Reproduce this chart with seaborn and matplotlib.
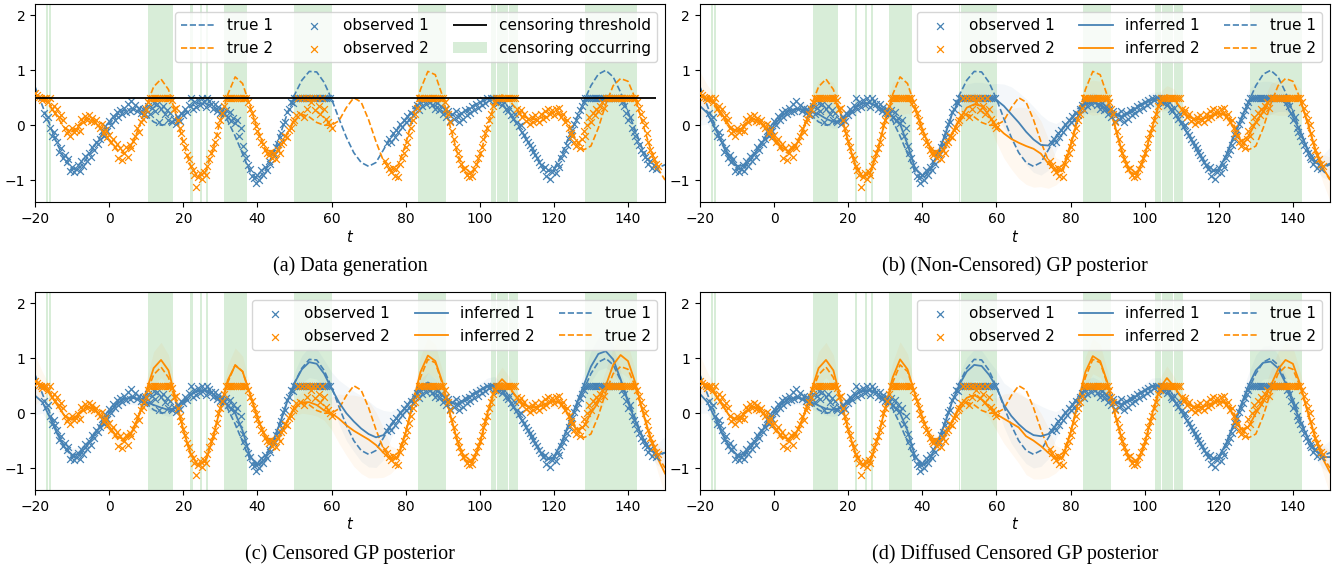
import numpy as np
import matplotlib.pyplot as plt
import seaborn as sns

# grid of the smooth curves (every 2 units of t)
t_grid = np.arange(-20, 151, 2)

true_1 = [0.70, 0.35, 0.00, -0.35, -0.62, -0.80, -0.78, -0.60, -0.38, -0.17,
          0.02, 0.18, 0.27, 0.30, 0.27, 0.18, 0.06, 0.00, 0.02, 0.10,
          0.22, 0.34, 0.40, 0.40, 0.35, 0.25, 0.08, -0.20, -0.52, -0.85,
          -0.98, -0.85, -0.55, -0.20, 0.20, 0.55, 0.82, 0.98, 0.97, 0.78,
          0.48, 0.12, -0.22, -0.50, -0.68, -0.75, -0.68, -0.45, -0.22, -0.05,
          0.10, 0.30, 0.45, 0.45, 0.36, 0.25, 0.18, 0.18, 0.25, 0.35,
          0.42, 0.48, 0.50, 0.40, 0.22, 0.02, -0.20, -0.42, -0.65, -0.85,
          -0.80, -0.55, -0.22, 0.10, 0.42, 0.72, 0.93, 1.00, 0.88, 0.60,
          0.25, -0.10, -0.45, -0.68, -0.78, -0.72]
true_2 = [0.56, 0.50, 0.36, 0.15, -0.05, -0.12, 0.02, 0.13, 0.08, -0.08,
          -0.28, -0.45, -0.52, -0.38, -0.05, 0.35, 0.70, 0.84, 0.65, 0.20,
          -0.32, -0.75, -0.95, -0.85, -0.45, 0.08, 0.56, 0.88, 0.76, 0.35,
          -0.08, -0.42, -0.55, -0.42, -0.15, 0.08, 0.20, 0.15, 0.05, 0.00,
          0.00, 0.08, 0.32, 0.50, 0.42, 0.10, -0.30, -0.65, -0.82, -0.72,
          -0.35, 0.15, 0.65, 0.98, 0.92, 0.52, -0.02, -0.52, -0.86, -0.90,
          -0.58, -0.05, 0.40, 0.55, 0.45, 0.28, 0.15, 0.10, 0.12, 0.18,
          0.22, 0.20, 0.02, -0.28, -0.45, -0.38, -0.05, 0.38, 0.72, 0.85,
          0.80, 0.48, 0.02, -0.42, -0.78, -1.00]

# posterior means
noncens_1 = [0.35, 0.22, -0.05, -0.32, -0.58, -0.74, -0.74, -0.60, -0.40, -0.20,
             0.00, 0.16, 0.26, 0.30, 0.29, 0.25, 0.20, 0.12, 0.06, 0.08,
             0.18, 0.32, 0.40, 0.40, 0.34, 0.25, 0.16, 0.02, -0.35, -0.78,
             -0.92, -0.82, -0.55, -0.20, 0.20, 0.45, 0.50, 0.50, 0.50, 0.50,
             0.46, 0.35, 0.20, 0.05, -0.12, -0.26, -0.36, -0.37, -0.22, -0.05,
             0.10, 0.25, 0.38, 0.42, 0.38, 0.28, 0.18, 0.16, 0.22, 0.32,
             0.40, 0.46, 0.46, 0.38, 0.22, 0.02, -0.20, -0.45, -0.68, -0.85,
             -0.80, -0.55, -0.20, 0.12, 0.42, 0.50, 0.50, 0.50, 0.50, 0.40,
             0.15, -0.12, -0.45, -0.66, -0.75, -0.70]
noncens_2 = [0.52, 0.48, 0.40, 0.20, -0.02, -0.12, -0.02, 0.12, 0.08, -0.05,
             -0.22, -0.40, -0.48, -0.36, -0.05, 0.32, 0.50, 0.50, 0.50, 0.22,
             -0.30, -0.75, -0.95, -0.85, -0.45, 0.10, 0.50, 0.50, 0.50, 0.30,
             -0.08, -0.40, -0.53, -0.42, -0.15, 0.10, 0.32, 0.38, 0.35, 0.18,
             -0.02, -0.15, -0.25, -0.32, -0.38, -0.43, -0.52, -0.70, -0.84, -0.82,
             -0.38, 0.12, 0.50, 0.50, 0.50, 0.45, -0.02, -0.52, -0.86, -0.90,
             -0.55, -0.05, 0.42, 0.50, 0.48, 0.28, 0.15, 0.10, 0.12, 0.18,
             0.22, 0.18, -0.05, -0.30, -0.20, 0.05, 0.25, 0.48, 0.50, 0.50,
             0.50, 0.45, 0.05, -0.45, -0.78, -0.98]
cens_1 = [0.32, 0.20, -0.08, -0.38, -0.62, -0.76, -0.74, -0.60, -0.40, -0.20,
          0.00, 0.16, 0.26, 0.28, 0.26, 0.20, 0.15, 0.10, 0.06, 0.10,
          0.20, 0.33, 0.42, 0.42, 0.35, 0.25, 0.14, 0.00, -0.32, -0.78,
          -0.95, -0.84, -0.55, -0.20, 0.20, 0.55, 0.80, 0.93, 0.90, 0.72,
          0.45, 0.20, 0.00, -0.15, -0.28, -0.38, -0.44, -0.40, -0.22, -0.05,
          0.10, 0.28, 0.48, 0.56, 0.48, 0.32, 0.20, 0.16, 0.22, 0.32,
          0.42, 0.50, 0.52, 0.42, 0.24, 0.02, -0.20, -0.45, -0.68, -0.85,
          -0.80, -0.55, -0.20, 0.15, 0.50, 0.85, 1.08, 1.13, 0.98, 0.62,
          0.20, -0.15, -0.45, -0.66, -0.75, -0.72]
cens_2 = [0.60, 0.50, 0.35, 0.15, -0.05, -0.12, 0.00, 0.12, 0.08, -0.06,
          -0.24, -0.42, -0.48, -0.36, -0.05, 0.40, 0.82, 0.97, 0.78, 0.25,
          -0.30, -0.75, -0.95, -0.88, -0.45, 0.10, 0.60, 0.87, 0.76, 0.35,
          -0.08, -0.42, -0.53, -0.42, -0.15, 0.10, 0.20, 0.20, 0.15, 0.05,
          0.00, -0.10, -0.22, -0.32, -0.40, -0.48, -0.58, -0.72, -0.85, -0.80,
          -0.36, 0.20, 0.75, 1.05, 0.95, 0.55, -0.02, -0.52, -0.86, -0.90,
          -0.55, -0.02, 0.45, 0.62, 0.48, 0.28, 0.15, 0.10, 0.12, 0.18,
          0.22, 0.18, -0.05, -0.30, -0.25, 0.00, 0.20, 0.50, 0.88, 1.06,
          0.95, 0.55, 0.02, -0.45, -0.82, -1.10]
diff_1 = [0.35, 0.20, -0.08, -0.38, -0.62, -0.76, -0.74, -0.60, -0.40, -0.20,
          0.00, 0.16, 0.26, 0.28, 0.26, 0.20, 0.14, 0.08, 0.06, 0.10,
          0.20, 0.33, 0.42, 0.42, 0.35, 0.25, 0.14, 0.00, -0.32, -0.78,
          -0.95, -0.84, -0.55, -0.20, 0.20, 0.52, 0.76, 0.88, 0.86, 0.70,
          0.48, 0.15, -0.05, -0.20, -0.32, -0.40, -0.42, -0.38, -0.22, -0.05,
          0.10, 0.28, 0.45, 0.48, 0.44, 0.30, 0.20, 0.16, 0.22, 0.32,
          0.42, 0.50, 0.50, 0.42, 0.24, 0.02, -0.20, -0.45, -0.68, -0.85,
          -0.80, -0.55, -0.20, 0.15, 0.50, 0.78, 0.92, 0.94, 0.82, 0.55,
          0.18, -0.15, -0.45, -0.68, -0.80, -0.80]
diff_2 = [0.60, 0.50, 0.35, 0.15, -0.05, -0.12, 0.00, 0.12, 0.08, -0.06,
          -0.24, -0.42, -0.48, -0.36, -0.05, 0.40, 0.82, 0.97, 0.78, 0.25,
          -0.30, -0.75, -0.95, -0.88, -0.45, 0.10, 0.65, 0.98, 0.80, 0.35,
          -0.08, -0.42, -0.53, -0.42, -0.15, 0.12, 0.28, 0.33, 0.25, 0.10,
          -0.02, -0.10, -0.18, -0.26, -0.42, -0.50, -0.60, -0.72, -0.84, -0.80,
          -0.36, 0.20, 0.75, 1.04, 0.95, 0.55, -0.02, -0.52, -0.86, -0.90,
          -0.55, -0.02, 0.45, 0.64, 0.48, 0.28, 0.15, 0.10, 0.12, 0.18,
          0.22, 0.18, -0.05, -0.30, -0.25, 0.00, 0.20, 0.50, 0.80, 0.97,
          0.90, 0.52, 0.02, -0.45, -0.82, -1.08]

# posterior std (half width of the shaded band)
band_1 = [0.35, 0.20, 0.14, 0.12, 0.12, 0.12, 0.12, 0.12, 0.12, 0.12,
          0.12, 0.12, 0.12, 0.12, 0.12, 0.12, 0.12, 0.12, 0.12, 0.12,
          0.12, 0.12, 0.12, 0.12, 0.12, 0.12, 0.12, 0.12, 0.12, 0.12,
          0.12, 0.12, 0.12, 0.12, 0.15, 0.20, 0.25, 0.28, 0.28, 0.25,
          0.30, 0.40, 0.50, 0.55, 0.60, 0.60, 0.55, 0.45, 0.25, 0.15,
          0.12, 0.12, 0.15, 0.18, 0.15, 0.12, 0.12, 0.12, 0.12, 0.12,
          0.12, 0.14, 0.15, 0.12, 0.12, 0.12, 0.12, 0.12, 0.12, 0.12,
          0.12, 0.12, 0.12, 0.15, 0.22, 0.28, 0.30, 0.30, 0.25, 0.15,
          0.12, 0.12, 0.12, 0.14, 0.20, 0.30]
band_2 = [0.45, 0.25, 0.15, 0.12, 0.12, 0.12, 0.12, 0.12, 0.12, 0.12,
          0.12, 0.12, 0.12, 0.12, 0.12, 0.20, 0.30, 0.32, 0.28, 0.15,
          0.12, 0.12, 0.12, 0.12, 0.12, 0.15, 0.28, 0.32, 0.28, 0.15,
          0.12, 0.12, 0.12, 0.12, 0.12, 0.15, 0.20, 0.22, 0.20, 0.18,
          0.30, 0.45, 0.55, 0.65, 0.70, 0.70, 0.60, 0.45, 0.25, 0.15,
          0.12, 0.15, 0.28, 0.32, 0.30, 0.20, 0.12, 0.12, 0.12, 0.12,
          0.12, 0.12, 0.18, 0.22, 0.18, 0.12, 0.12, 0.12, 0.12, 0.12,
          0.12, 0.12, 0.12, 0.12, 0.15, 0.15, 0.20, 0.28, 0.32, 0.32,
          0.30, 0.22, 0.15, 0.15, 0.25, 0.40]

# observations every 0.5 of t, two stretches per output (nothing in 60-75)
obs_step = 0.5
obs1_early_start = -17.5
obs1_early = [0.22, 0.12, 0.15, -0.05, -0.20, -0.12, -0.22, -0.30, -0.48, -0.42,
              -0.60, -0.55, -0.68, -0.62, -0.84, -0.76, -0.86, -0.80, -0.72, -0.84,
              -0.66, -0.75, -0.56, -0.66, -0.50, -0.58, -0.40, -0.46, -0.30, -0.35,
              -0.26, -0.10, -0.20, -0.02, -0.10, 0.08, 0.00, 0.17, 0.10, 0.24,
              0.15, 0.28, 0.20, 0.32, 0.24, 0.38, 0.26, 0.44, 0.30, 0.36,
              0.25, 0.32, 0.22, 0.30, 0.18, 0.28, 0.35, 0.20, 0.32, 0.40,
              0.25, 0.38, 0.06, 0.30, 0.35, 0.20, 0.28, 0.10, 0.22, 0.05,
              0.12, 0.03, 0.15, 0.08, 0.22, 0.18, 0.30, 0.24, 0.36, 0.50,
              0.30, 0.42, 0.34, 0.45, 0.36, 0.50, 0.42, 0.34, 0.50, 0.44,
              0.38, 0.30, 0.38, 0.26, 0.33, 0.22, 0.30, 0.20, 0.28, 0.15,
              0.24, 0.08, 0.14, 0.04, 0.10, -0.20, -0.05, -0.38, -0.50, -0.60,
              -0.72, -0.80, -0.92, -0.96, -1.05, -0.90, -1.00, -0.82, -0.90, -0.76,
              -0.82, -0.66, -0.70, -0.50, -0.55, -0.40, -0.35, -0.22, -0.15, 0.02,
              0.05, 0.24, 0.30, 0.42, 0.40, 0.50, 0.50, 0.50, 0.50, 0.50,
              0.50, 0.50, 0.50, 0.50, 0.50, 0.50, 0.50, 0.50, 0.50, 0.50,
              0.50, 0.50, 0.50, 0.50, 0.50]
obs1_late_start = 75.0
obs1_late = [-0.32, -0.25, -0.30, -0.15, -0.22, -0.08, -0.12, 0.02, -0.04, 0.10,
             0.05, 0.16, 0.10, 0.22, 0.18, 0.30, 0.36, 0.28, 0.42, 0.35,
             0.46, 0.38, 0.50, 0.42, 0.36, 0.45, 0.30, 0.40, 0.28, 0.35,
             0.20, 0.30, 0.15, 0.25, 0.08, 0.20, 0.12, 0.25, 0.15, 0.05,
             0.22, 0.12, 0.28, 0.18, 0.30, 0.22, 0.35, 0.28, 0.38, 0.32,
             0.42, 0.36, 0.45, 0.40, 0.50, 0.46, 0.50, 0.50, 0.44, 0.50,
             0.40, 0.45, 0.36, 0.42, 0.30, 0.25, 0.32, 0.18, 0.12, 0.20,
             0.05, -0.02, 0.00, -0.12, -0.18, -0.25, -0.30, -0.36, -0.42, -0.48,
             -0.55, -0.60, -0.68, -0.72, -0.80, -0.76, -0.92, -0.82, -0.98, -0.85,
             -0.78, -0.88, -0.70, -0.76, -0.60, -0.52, -0.45, -0.36, -0.25, -0.18,
             -0.08, 0.02, 0.10, 0.18, 0.28, 0.35, 0.42, 0.50, 0.50, 0.50,
             0.50, 0.50, 0.50, 0.50, 0.50, 0.50, 0.50, 0.50, 0.50, 0.50,
             0.50, 0.50, 0.50, 0.50, 0.50, 0.50, 0.50, 0.42, 0.35, 0.22,
             0.10, 0.15, -0.05, -0.12, -0.20, -0.28, -0.36, -0.45, -0.50, -0.58,
             -0.62, -0.70, -0.66, -0.78, -0.72, -0.80]
obs2_early_start = -20.0
obs2_early = [0.58, 0.55, 0.52, 0.50, 0.46, 0.50, 0.50, 0.42, 0.50, 0.30,
              0.35, 0.22, 0.30, 0.15, 0.18, 0.10, -0.05, -0.15, -0.10, -0.20,
              -0.05, -0.12, -0.08, -0.02, -0.10, 0.12, 0.05, 0.16, 0.10, 0.18,
              0.08, 0.14, 0.05, 0.10, 0.00, -0.05, 0.02, -0.15, -0.08, -0.22,
              -0.18, -0.30, -0.25, -0.40, -0.35, -0.60, -0.42, -0.64, -0.50, -0.40,
              -0.58, -0.36, -0.42, -0.28, -0.20, -0.05, -0.12, 0.05, 0.12, 0.20,
              0.30, 0.42, 0.50, 0.50, 0.50, 0.50, 0.50, 0.50, 0.50, 0.50,
              0.50, 0.50, 0.50, 0.50, 0.45, 0.30, 0.32, 0.10, -0.05, -0.15,
              -0.28, -0.40, -0.55, -0.62, -0.75, -0.82, -0.90, -1.12, -0.95, -0.88,
              -0.98, -0.85, -0.90, -0.75, -0.62, -0.50, -0.42, -0.30, -0.18, 0.00,
              0.10, 0.22, 0.35, 0.50, 0.50, 0.50, 0.50, 0.50, 0.50, 0.50,
              0.50, 0.50, 0.50, 0.50, 0.50, 0.42, 0.30, 0.22, 0.10, -0.02,
              -0.10, -0.20, -0.30, -0.35, -0.45, -0.50, -0.55, -0.48, -0.60, -0.50,
              -0.62, -0.45, -0.50, -0.35, -0.30, -0.20, -0.22, -0.08, -0.05, 0.05,
              0.10, 0.18, 0.50, 0.20, 0.50, 0.15, 0.50, 0.30, 0.50, 0.42,
              0.50, 0.28, 0.50, 0.35, 0.20, 0.50, 0.30, 0.12, 0.05, 0.00,
              -0.05]
obs2_late_start = 74.5
obs2_late = [-0.65, -0.72, -0.80, -0.85, -0.78, -0.92, -0.80, -0.95, -0.70, -0.60,
             -0.50, -0.40, -0.30, -0.18, -0.05, 0.10, 0.20, 0.32, 0.50, 0.50,
             0.50, 0.50, 0.50, 0.50, 0.50, 0.50, 0.50, 0.50, 0.50, 0.50,
             0.50, 0.50, 0.42, 0.30, 0.20, 0.05, -0.10, -0.25, -0.40, -0.50,
             -0.62, -0.70, -0.80, -0.78, -0.90, -0.95, -0.85, -0.92, -0.80, -0.70,
             -0.60, -0.50, -0.40, -0.25, -0.15, -0.05, 0.10, 0.20, 0.35, 0.42,
             0.50, 0.50, 0.50, 0.50, 0.50, 0.50, 0.50, 0.50, 0.50, 0.50,
             0.50, 0.30, 0.22, 0.28, 0.15, 0.20, 0.08, 0.12, 0.02, 0.15,
             0.05, 0.18, 0.10, 0.05, 0.20, 0.12, 0.25, 0.15, 0.30, 0.20,
             0.28, 0.18, 0.30, 0.22, 0.32, 0.15, 0.20, 0.05, 0.10, -0.05,
             -0.15, -0.20, -0.30, -0.38, -0.30, -0.42, -0.25, -0.10, -0.20, 0.00,
             0.15, 0.05, 0.22, 0.18, 0.30, 0.25, 0.35, 0.42, 0.32, 0.50,
             0.50, 0.50, 0.50, 0.50, 0.50, 0.50, 0.50, 0.50, 0.50, 0.50,
             0.50, 0.50, 0.50, 0.50, 0.50, 0.50, 0.42, 0.32, 0.20, 0.10,
             0.00, -0.15, -0.30, -0.45, -0.55, -0.62, -0.70, -0.75]

threshold = 0.5
threshold_extent = (-20, 147.5)

censor_spans = [(-17.1, -16.6), (-16.3, -15.8), (10.4, 17.2), (21.9, 22.5),
                (24.6, 25.1), (26.1, 26.8), (31.0, 37.3), (49.9, 50.3),
                (50.4, 60.2), (83.3, 90.8), (102.9, 104.3), (104.6, 107.6),
                (107.8, 108.6), (108.8, 110.3), (128.5, 142.4)]

captions = ["(a) Data generation", "(b) (Non-Censored) GP posterior",
            "(c) Censored GP posterior", "(d) Diffused Censored GP posterior"]

BLUE = "#4682b4"
ORANGE = "#ff8c00"


def obs_times(start, values):
    return start + obs_step * np.arange(len(values))


obs1_t = np.concatenate([obs_times(obs1_early_start, obs1_early),
                         obs_times(obs1_late_start, obs1_late)])
obs1_y = np.array(obs1_early + obs1_late)
obs2_t = np.concatenate([obs_times(obs2_early_start, obs2_early),
                         obs_times(obs2_late_start, obs2_late)])
obs2_y = np.array(obs2_early + obs2_late)


def draw_base(ax):
    for i, (lo, hi) in enumerate(censor_spans):
        ax.axvspan(lo, hi, color="tab:green", alpha=0.18, lw=0, zorder=0,
                   label="censoring occurring" if i == 0 else None)
    sns.scatterplot(x=obs1_t, y=obs1_y, ax=ax, marker="x", color=BLUE, s=24,
                    linewidth=0.9, label="observed 1", zorder=3)
    sns.scatterplot(x=obs2_t, y=obs2_y, ax=ax, marker="x", color=ORANGE, s=24,
                    linewidth=0.9, label="observed 2", zorder=3)
    sns.lineplot(x=t_grid, y=true_1, ax=ax, color=BLUE, linestyle="--",
                 linewidth=1.2, label="true 1", zorder=2)
    sns.lineplot(x=t_grid, y=true_2, ax=ax, color=ORANGE, linestyle="--",
                 linewidth=1.2, label="true 2", zorder=2)


def finish(ax, order, caption):
    ax.set_xlim(-20, 150)
    ax.set_ylim(-1.4, 2.2)
    ax.set_xticks([-20, 0, 20, 40, 60, 80, 100, 120, 140])
    ax.set_yticks([-1, 0, 1, 2])
    ax.tick_params(labelsize=10)
    ax.set_xlabel("$t$", fontsize=10.5, labelpad=2)
    ax.set_ylabel("")
    handles, labels = ax.get_legend_handles_labels()
    lookup = dict(zip(labels, handles))
    ax.legend([lookup[k] for k in order], order, ncol=3, loc="upper right",
              fontsize=11, handlelength=2.2, columnspacing=1.6)
    pos = ax.get_position()
    fig.text(pos.x0 + pos.width / 2, pos.y0 - 64 / 566, caption,
             ha="center", va="center", fontsize=14.5, family="Liberation Serif")


fig = plt.figure(figsize=(13.43, 5.66), dpi=100)
left = [0.0261, 0.5212]
bottom = [0.6431, 0.1343]
axes = [fig.add_axes([left[i % 2], bottom[i // 2], 0.4691, 0.349]) for i in range(4)]

# (a) data generation
ax = axes[0]
draw_base(ax)
ax.hlines(threshold, *threshold_extent, color="black", linewidth=1.3,
          label="censoring threshold", zorder=4)
finish(ax, ["true 1", "true 2", "observed 1", "observed 2",
            "censoring threshold", "censoring occurring"], captions[0])

# (b)-(d) posteriors
posteriors = [(noncens_1, noncens_2), (cens_1, cens_2), (diff_1, diff_2)]
for ax, (m1, m2), cap in zip(axes[1:], posteriors, captions[1:]):
    for m, b, c in [(m1, band_1, BLUE), (m2, band_2, ORANGE)]:
        m = np.array(m)
        b = np.array(b)
        ax.fill_between(t_grid, m - b, m + b, color=c, alpha=0.06, lw=0, zorder=1)
    draw_base(ax)
    sns.lineplot(x=t_grid, y=m1, ax=ax, color=BLUE, linewidth=1.3,
                 label="inferred 1", zorder=2)
    sns.lineplot(x=t_grid, y=m2, ax=ax, color=ORANGE, linewidth=1.3,
                 label="inferred 2", zorder=2)
    finish(ax, ["observed 1", "observed 2", "inferred 1", "inferred 2",
                "true 1", "true 2"], cap)

fig.savefig("out.png", dpi=100)
